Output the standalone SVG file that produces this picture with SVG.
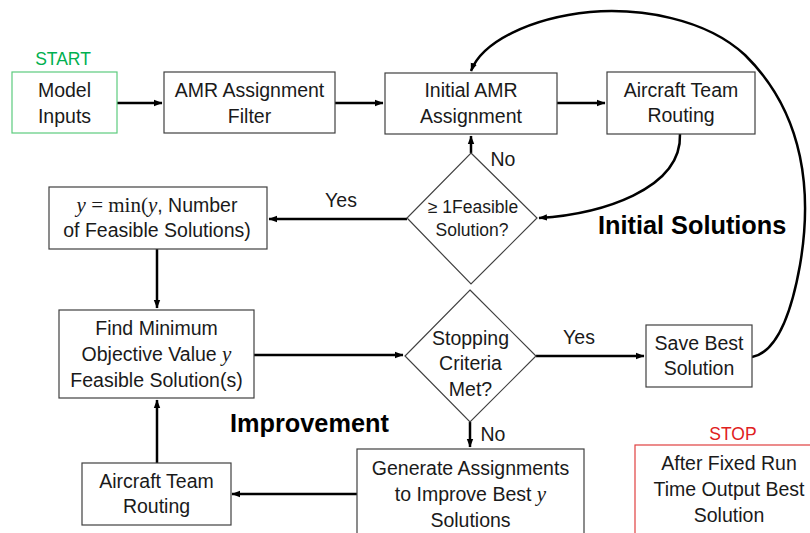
<svg xmlns="http://www.w3.org/2000/svg" width="810" height="533" viewBox="0 0 810 533">
<style>
.box{fill:#fff;stroke:#404040;stroke-width:1.2}
.t{font-family:"Liberation Sans",Arial,sans-serif;font-size:19.5px;fill:#1a1a1a;text-anchor:middle}
.ts{font-family:"Liberation Sans",Arial,sans-serif;font-size:17.5px;fill:#1a1a1a;text-anchor:middle}
.m{font-family:"Liberation Serif","Times New Roman",serif;font-size:21px}
.mi{font-family:"Liberation Serif","Times New Roman",serif;font-size:21px;font-style:italic}
.h{font-family:"Liberation Sans",Arial,sans-serif;font-size:25.3px;font-weight:bold;fill:#000}
.c{fill:none;stroke:#000;stroke-width:2.5}
</style>
<defs>
<marker id="a" markerWidth="10" markerHeight="8" refX="8" refY="4" orient="auto" markerUnits="userSpaceOnUse">
<path d="M0,0.8 L8.5,4 L0,7.2 Z" fill="#000"/>
</marker>
</defs>
<rect width="810" height="533" fill="#fff"/>

<g id="connectors">
<path class="c" d="M117,103 H162" marker-end="url(#a)"/>
<path class="c" d="M335,103 H383" marker-end="url(#a)"/>
<path class="c" d="M557,103 H605" marker-end="url(#a)"/>
<path class="c" d="M471,153 V136" marker-end="url(#a)"/>
<path class="c" d="M680,134 C682,190 600,214 539,218" marker-end="url(#a)"/>
<path class="c" d="M407,219 H269" marker-end="url(#a)"/>
<path class="c" d="M157,249 V308" marker-end="url(#a)"/>
<path class="c" d="M254,355 H403" marker-end="url(#a)"/>
<path class="c" d="M536,356 H644" marker-end="url(#a)"/>
<path class="c" d="M470,422 V447" marker-end="url(#a)"/>
<path class="c" d="M357,494 H232" marker-end="url(#a)"/>
<path class="c" d="M157,463 V400" marker-end="url(#a)"/>
<path class="c" d="M752,357 C778,352 792,310 800,265 C812,195 806,115 745,55 C705,18 640,8 590,12 C530,18 482,42 471,71" marker-end="url(#a)"/>
<text class="t" x="503" y="166">No</text>
<text class="t" x="341" y="207">Yes</text>
<text class="t" x="579" y="344">Yes</text>
<text class="t" x="493" y="441">No</text>
</g>

<g id="start">
<text x="63" y="65" style="font-family:'Liberation Sans',Arial,sans-serif;font-size:17.5px;fill:#00B050;text-anchor:middle">START</text>
</g>
<g id="model-inputs">
<rect x="12" y="72" width="105" height="61" fill="#fff" stroke="#5CCB7E" stroke-width="1.2"/>
<text class="t" x="64.5" y="97">Model</text>
<text class="t" x="64.5" y="123">Inputs</text>
</g>
<g id="amr-filter">
<rect class="box" x="164" y="72" width="171" height="61"/>
<text class="t" x="249.5" y="97">AMR Assignment</text>
<text class="t" x="249.5" y="123">Filter</text>
</g>
<g id="initial-amr">
<rect class="box" x="385" y="73" width="172" height="61"/>
<text class="t" x="471" y="97">Initial AMR</text>
<text class="t" x="471" y="123">Assignment</text>
</g>
<g id="routing-top">
<rect class="box" x="607" y="72" width="148" height="62"/>
<text class="t" x="681" y="97">Aircraft Team</text>
<text class="t" x="681" y="122">Routing</text>
</g>
<g id="feasible-diamond">
<polygon class="box" points="471,153 537,218 471,284 407,218"/>
<text class="ts" x="473" y="213">≥ 1Feasible</text>
<text class="ts" x="472" y="236">Solution?</text>
</g>
<g id="ymin">
<rect class="box" x="49" y="187" width="218" height="62"/>
<text class="t" x="157" y="212"><tspan class="mi">y</tspan><tspan class="m"> = min(</tspan><tspan class="mi">y</tspan>, Number</text>
<text class="t" x="157" y="237">of Feasible Solutions)</text>
</g>
<g id="find-min">
<rect class="box" x="59" y="310" width="195" height="88"/>
<text class="t" x="156.5" y="335">Find Minimum</text>
<text class="t" x="156.5" y="361">Objective Value <tspan class="mi">y</tspan></text>
<text class="t" x="156.5" y="387">Feasible Solution(s)</text>
</g>
<g id="stopping-diamond">
<polygon class="box" points="470,290 536,356 470,422 405,356"/>
<text class="t" x="470.5" y="345">Stopping</text>
<text class="t" x="470.5" y="370">Criteria</text>
<text class="t" x="470.5" y="396">Met?</text>
</g>
<g id="save-best">
<rect class="box" x="646" y="325" width="106" height="62"/>
<text class="t" x="699" y="350">Save Best</text>
<text class="t" x="699" y="375">Solution</text>
</g>
<g id="generate">
<rect class="box" x="357" y="449" width="227" height="100"/>
<text class="t" x="470.5" y="475">Generate Assignments</text>
<text class="t" x="470.5" y="501">to Improve Best <tspan class="mi">y</tspan></text>
<text class="t" x="470.5" y="527">Solutions</text>
</g>
<g id="routing-bottom">
<rect class="box" x="82" y="463" width="149" height="62"/>
<text class="t" x="156.5" y="488">Aircraft Team</text>
<text class="t" x="156.5" y="513">Routing</text>
</g>
<g id="stop">
<text x="733" y="440" style="font-family:'Liberation Sans',Arial,sans-serif;font-size:17.5px;fill:#E02020;text-anchor:middle">STOP</text>
<rect x="635" y="445" width="200" height="100" fill="#fff" stroke="#E04040" stroke-width="1.2"/>
<text class="t" x="729" y="470">After Fixed Run</text>
<text class="t" x="729" y="496">Time Output Best</text>
<text class="t" x="729" y="522">Solution</text>
</g>
<g id="labels">
<text class="h" x="598" y="234">Initial Solutions</text>
<text class="h" x="230" y="432">Improvement</text>
</g>
</svg>
